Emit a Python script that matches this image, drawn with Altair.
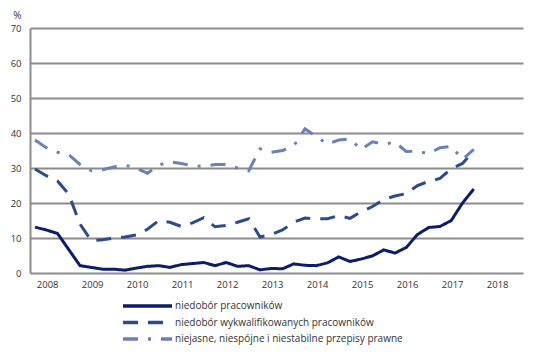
import altair as alt
import pandas as pd

series_names = [
    "niedobór pracowników",
    "niedobór wykwalifikowanych pracowników",
    "niejasne, niespójne i niestabilne przepisy prawne",
]
series_colors = ["#0c1c6c", "#2c4a8e", "#6c80b8"]
series_dashes = [[1, 0], [15, 10], [15, 10, 3, 10]]

start_year = 2008
years = list(range(2008, 2019))

niedobor = [13.1, 12.3, 11.3, 6.7, 2.1, 1.6, 1.1, 1.1, 0.8, 1.4,
            1.9, 2.1, 1.6, 2.4, 2.7, 3.0, 2.1, 3.0, 1.9, 2.1,
            0.9, 1.3, 1.2, 2.6, 2.2, 2.1, 2.9, 4.6, 3.3, 4.0,
            4.9, 6.6, 5.7, 7.3, 11.0, 13.0, 13.3, 15.0, 20.0, 24.0]
wykwalif = [29.7, 27.8, 26.3, 22.5, 14.0, 9.2, 9.5, 10.0, 10.3, 10.9,
            12.5, 15.0, 14.5, 13.3, 14.3, 15.8, 13.2, 13.6, 14.5, 15.5,
            10.3, 11.0, 12.3, 14.5, 15.7, 15.5, 15.5, 16.4, 15.6, 17.5,
            19.0, 21.0, 22.0, 22.7, 25.0, 26.2, 27.0, 29.8, 31.3, 35.0]
przepisy = [38.0, 35.8, 34.5, 33.8, 31.0, 29.2, 29.5, 30.3, 30.8, 30.0,
            28.5, 30.8, 31.8, 31.3, 30.6, 30.5, 31.0, 31.0, 30.0, 29.2,
            35.5, 34.5, 35.0, 36.3, 41.2, 39.0, 36.8, 38.0, 38.3, 35.3,
            37.5, 36.8, 37.4, 34.7, 34.8, 34.1, 35.8, 36.2, 32.5, 35.3]

rows = []
for name, vals in zip(series_names, [niedobor, wykwalif, przepisy]):
    for i, v in enumerate(vals):
        rows.append({"t": start_year + i / 4, "v": v, "s": name,
                     "o": series_names.index(name)})
df = pd.DataFrame(rows)
legend_df = pd.DataFrame({"s": series_names, "row": list(range(len(series_names)))})

FONT = "Open Sans"
TXT = "#333333"

color_scale = alt.Scale(domain=series_names, range=series_colors)
dash_scale = alt.Scale(domain=series_names, range=series_dashes)

lines = alt.Chart(df).mark_line(strokeWidth=3).encode(
    x=alt.X("t:Q",
            scale=alt.Scale(domain=[2007.889, 2018.844], nice=False, zero=False),
            axis=alt.Axis(values=[y + 0.27 for y in years],
                          labelExpr="'' + floor(datum.value)",
                          title=None, grid=False, domain=False, ticks=False,
                          labelPadding=6, labelFontSize=9.5, labelFont=FONT,
                          labelColor=TXT)),
    y=alt.Y("v:Q",
            scale=alt.Scale(domain=[0, 70], nice=False),
            axis=alt.Axis(values=list(range(0, 80, 10)), title="%",
                          titleAngle=0, titleX=-13, titleY=-13,
                          titleAlign="center", titleBaseline="middle",
                          titleFontSize=10, titleFont=FONT, titleFontWeight="normal",
                          titleColor=TXT,
                          grid=True, gridColor="#8c8c8c", gridWidth=2,
                          domain=True, domainColor="#8c8c8c", domainWidth=2,
                          ticks=False, labelPadding=9, labelFontSize=9.5,
                          labelFont=FONT, labelColor=TXT)),
    color=alt.Color("s:N", scale=color_scale, legend=None),
    strokeDash=alt.StrokeDash("s:N", scale=dash_scale, legend=None),
    order="o:Q",
)

legend_y = alt.Y("row:Q", scale=alt.Scale(domain=[0, 2], range=[278, 311]), axis=None)

legend_rules = alt.Chart(legend_df).mark_rule(strokeWidth=3.5).encode(
    x=alt.value(93), x2=alt.value(142),
    y=legend_y,
    color=alt.Color("s:N", scale=color_scale, legend=None),
    strokeDash=alt.StrokeDash("s:N", scale=dash_scale, legend=None),
)

legend_text = alt.Chart(legend_df).mark_text(
    align="left", baseline="middle", fontSize=10, font=FONT, color=TXT
).encode(
    x=alt.value(145),
    y=legend_y,
    text="s:N",
)

chart = alt.layer(lines, legend_rules, legend_text).resolve_scale(
    y="independent"
).properties(
    width=493, height=245,
    autosize=alt.AutoSizeParams(type="none"),
    padding={"left": 22, "top": 20, "right": 14, "bottom": 80},
).configure_view(stroke=None)

chart.save("out.html", embed_options={"renderer": "svg", "actions": False})
